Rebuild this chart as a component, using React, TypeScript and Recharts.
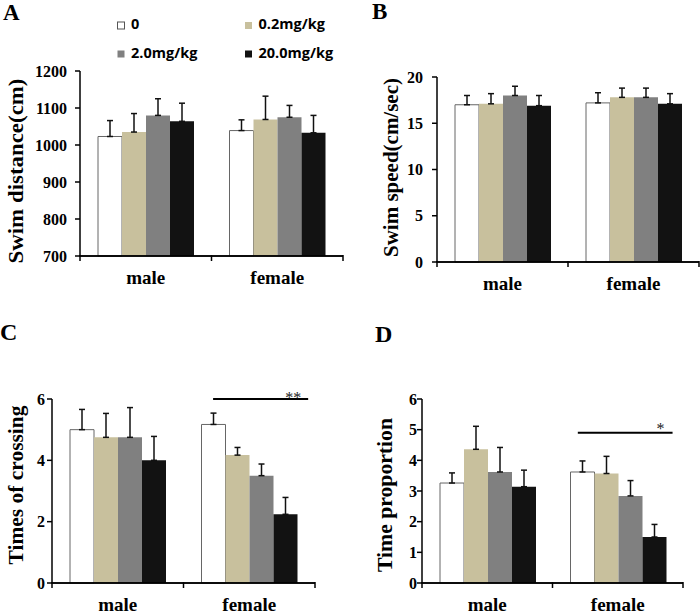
import React from 'react';
import { BarChart, Bar, XAxis, YAxis, ErrorBar, ReferenceLine } from 'recharts';

const SERIF = '"Liberation Serif", "Times New Roman", serif';
const SANS = '"Open Sans", sans-serif';

const groups = ['male', 'female'];
const doses = ['0', '0.2mg/kg', '2.0mg/kg', '20.0mg/kg'];
const doseFills = ['#ffffff', '#c8c09d', '#808080', '#121212'];

// each inner array is [male, female]; one inner array per dose
const distanceMean = [[1023, 1039], [1035, 1069], [1080, 1075], [1064, 1033]];
const distanceSem = [[43, 29], [50, 63], [45, 32], [49, 47]];
const distanceTicks = [700, 800, 900, 1000, 1100, 1200];

const speedMean = [[17.0, 17.2], [17.1, 17.8], [18.0, 17.8], [16.9, 17.1]];
const speedSem = [[1.0, 1.1], [1.1, 1.0], [1.0, 1.0], [1.1, 1.1]];
const speedTicks = [0, 5, 10, 15, 20];

const crossingMean = [[5.0, 5.17], [4.75, 4.17], [4.75, 3.5], [4.0, 2.24]];
const crossingSem = [[0.66, 0.37], [0.78, 0.25], [0.97, 0.38], [0.78, 0.55]];
const crossingTicks = [0, 2, 4, 6];

const proportionMean = [[3.26, 3.62], [4.36, 3.57], [3.62, 2.84], [3.14, 1.5]];
const proportionSem = [[0.33, 0.36], [0.75, 0.56], [0.8, 0.5], [0.54, 0.41]];
const proportionTicks = [0, 1, 2, 3, 4, 5, 6];

// group boundaries on the hidden slot axis (0 = left end, 2 = right end)
const groupEdges = [0, 1, 2];

function buildRows(mean: number[][], sem: number[][]) {
  return groups.map((g, gi) => {
    const row: Record<string, any> = { group: g, slot: gi + 0.5 };
    doses.forEach((_, di) => {
      row[`d${di}`] = mean[di][gi];
      // only the upper half of the error bar is drawn
      row[`e${di}`] = [0, sem[di][gi]];
    });
    return row;
  });
}

const axisStroke = { stroke: '#000', strokeWidth: 1.5 };

// short downward tick under the baseline at a group boundary
function EdgeTick(props: any) {
  const { x1, y1, y2 } = props;
  if (x1 == null || y1 == null || y2 == null) return null;
  const base = Math.max(y1, y2);
  return <line x1={x1} y1={base - 1} x2={x1} y2={base + 5} stroke="#000" strokeWidth={1.5} />;
}

// horizontal baseline drawn from the reference line coordinates
function BaseLine(props: any) {
  const { x1, x2, y1 } = props;
  if (x1 == null || x2 == null || y1 == null) return null;
  return <line x1={Math.min(x1, x2) - 0.75} y1={y1} x2={Math.max(x1, x2)} y2={y1} stroke="#000" strokeWidth={1.5} />;
}

function YTitle({ viewBox, text, gap, shift, len }: any) {
  const cx = viewBox.x + viewBox.width - gap;
  const cy = viewBox.y + viewBox.height / 2 + shift;
  return (
    <text
      x={cx}
      y={cy}
      transform={`rotate(-90 ${cx} ${cy})`}
      textAnchor="middle"
      dominantBaseline="central"
      textLength={len}
      lengthAdjust="spacingAndGlyphs"
      fontFamily={SERIF}
      fontWeight={700}
      fontSize={21}
      fill="#000"
    >
      {text}
    </text>
  );
}

function SigMark({ viewBox, text, inset, drop }: any) {
  if (!viewBox) return null;
  return (
    <text
      x={viewBox.x + viewBox.width - inset}
      y={viewBox.y + drop}
      textAnchor="end"
      fontFamily={SERIF}
      fontSize={16}
      fill="#222"
    >
      {text}
    </text>
  );
}

interface PanelProps {
  left: number;
  top: number;
  width: number;
  height: number;
  margin: { top: number; right: number; bottom: number; left: number };
  rows: Record<string, any>[];
  domain: [number, number];
  ticks: number[];
  tickMargin: number;
  title: string;
  titleGap: number;
  titleShift: number;
  titleLen: number;
  sig?: { from: number; to: number; y: number; text: string; inset: number; drop: number };
}

function Panel(p: PanelProps) {
  return (
    <div style={{ position: 'absolute', left: p.left, top: p.top }}>
      <BarChart width={p.width} height={p.height} data={p.rows} margin={p.margin} barCategoryGap={18} barGap={0}>
        <XAxis
          dataKey="group"
          height={30}
          axisLine={axisStroke}
          tickLine={false}
          tickSize={0}
          tickMargin={15}
          interval={0}
          tick={{ fontFamily: SERIF, fontWeight: 700, fontSize: 19, fill: '#000' }}
        />
        {/* hidden numeric axis, used to place the baseline, boundary ticks and the significance bar */}
        <XAxis xAxisId="slots" dataKey="slot" type="number" domain={[0, 2]} hide />
        <YAxis
          width={40}
          domain={p.domain}
          ticks={p.ticks}
          interval={0}
          tickSize={5}
          tickMargin={p.tickMargin}
          axisLine={axisStroke}
          tickLine={axisStroke}
          tick={{ fontFamily: SERIF, fontWeight: 700, fontSize: 16, fill: '#000' }}
          label={<YTitle text={p.title} gap={p.titleGap} shift={p.titleShift} len={p.titleLen} />}
        />
        {doses.map((d, i) => (
          <Bar
            key={d}
            dataKey={`d${i}`}
            name={d}
            fill={doseFills[i]}
            stroke={i === 0 ? '#666' : 'none'}
            strokeWidth={1}
            isAnimationActive={false}
          >
            <ErrorBar dataKey={`e${i}`} direction="y" width={3} stroke="#111" strokeWidth={1.5} isAnimationActive={false} />
          </Bar>
        ))}
        <ReferenceLine xAxisId="slots" y={p.domain[0]} ifOverflow="visible" shape={<BaseLine />} />
        {groupEdges.map((e) => (
          <ReferenceLine key={e} xAxisId="slots" x={e} ifOverflow="visible" shape={<EdgeTick />} />
        ))}
        {p.sig && (
          <ReferenceLine
            xAxisId="slots"
            segment={[{ x: p.sig.from, y: p.sig.y }, { x: p.sig.to, y: p.sig.y }]}
            stroke="#000"
            strokeWidth={2}
            ifOverflow="visible"
            label={<SigMark text={p.sig.text} inset={p.sig.inset} drop={p.sig.drop} />}
          />
        )}
      </BarChart>
    </div>
  );
}

const legendSpots = [
  { x: 117.5, y: 29 },
  { x: 245, y: 29 },
  { x: 117.5, y: 57.5 },
  { x: 245, y: 57.5 },
];

const panelLetters = [
  { t: 'A', x: 3, y: 20, size: 23 },
  { t: 'B', x: 372, y: 19, size: 23 },
  { t: 'C', x: 0, y: 340, size: 24 },
  { t: 'D', x: 375, y: 342, size: 24 },
];

export default function App() {
  return (
    <div style={{ position: 'absolute', left: 0, top: 0, width: 700, height: 614, background: '#fff', overflow: 'hidden' }}>
      <Panel
        left={0}
        top={0}
        width={350}
        height={300}
        margin={{ top: 71, right: 7, bottom: 14, left: 40 }}
        rows={buildRows(distanceMean, distanceSem)}
        domain={[700, 1200]}
        ticks={distanceTicks}
        tickMargin={8}
        title="Swim distance(cm)"
        titleGap={64}
        titleShift={7.5}
        titleLen={185}
      />
      <Panel
        left={350}
        top={0}
        width={350}
        height={300}
        margin={{ top: 77, right: 1, bottom: 8, left: 47 }}
        rows={buildRows(speedMean, speedSem)}
        domain={[0, 20]}
        ticks={speedTicks}
        tickMargin={9}
        title="Swim speed(cm/sec)"
        titleGap={46}
        titleShift={-2}
        titleLen={179}
      />
      <Panel
        left={0}
        top={300}
        width={350}
        height={314}
        margin={{ top: 99, right: 35, bottom: 1, left: 12 }}
        rows={buildRows(crossingMean, crossingSem)}
        domain={[0, 6]}
        ticks={crossingTicks}
        tickMargin={2}
        title="Times of crossing"
        titleGap={36}
        titleShift={-6}
        titleLen={159}
        sig={{ from: 1.225, to: 1.948, y: 6, text: '**', inset: 7, drop: 4 }}
      />
      <Panel
        left={350}
        top={300}
        width={350}
        height={314}
        margin={{ top: 99, right: 17, bottom: 1, left: 32 }}
        rows={buildRows(proportionMean, proportionSem)}
        domain={[0, 6]}
        ticks={proportionTicks}
        tickMargin={0}
        title="Time proportion"
        titleGap={37}
        titleShift={4}
        titleLen={154}
        sig={{ from: 1.194, to: 1.92, y: 4.9, text: '*', inset: 8, drop: 1 }}
      />
      <svg width={700} height={614} style={{ position: 'absolute', left: 0, top: 0, pointerEvents: 'none' }}>
        {doses.map((d, i) => (
          <g key={d}>
            <rect
              x={legendSpots[i].x}
              y={legendSpots[i].y - 7}
              width={7}
              height={7}
              fill={doseFills[i]}
              stroke={i === 0 ? '#555' : 'none'}
              strokeWidth={1}
            />
            <text x={legendSpots[i].x + 13.5} y={legendSpots[i].y} fontFamily={SANS} fontWeight={700} fontSize={14.5} fill="#000">
              {d}
            </text>
          </g>
        ))}
        {panelLetters.map((l) => (
          <text key={l.t} x={l.x} y={l.y} fontFamily={SERIF} fontWeight={700} fontSize={l.size} fill="#000">
            {l.t}
          </text>
        ))}
      </svg>
    </div>
  );
}
